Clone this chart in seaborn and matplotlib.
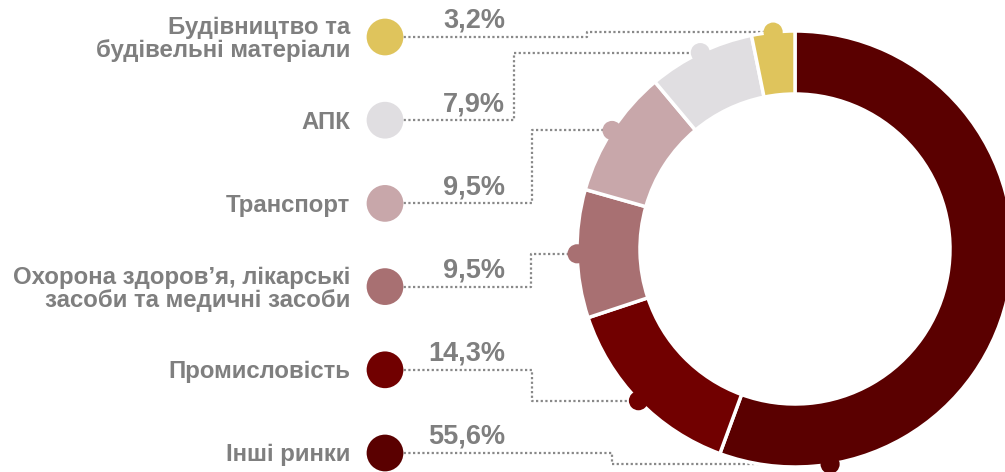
import matplotlib
matplotlib.use("Agg")
import numpy as np
import matplotlib.pyplot as plt
import seaborn as sns

# Sector shares, in drawing order (clockwise from 12 o'clock)
sectors = [
    "Інші ринки",
    "Промисловість",
    "Охорона здоров’я, лікарські\nзасоби та медичні засоби",
    "Транспорт",
    "АПК",
    "Будівництво та\nбудівельні матеріали",
]
shares = [55.6, 14.3, 9.5, 9.5, 7.9, 3.2]
share_labels = ["55,6%", "14,3%", "9,5%", "9,5%", "7,9%", "3,2%"]
colors = ["#5a0000", "#710000", "#a87072", "#c8a7aa", "#e0dee1", "#dfc45c"]

W, H = 1005, 472
sns.set_theme(style="white")
plt.rcParams["font.family"] = ["Liberation Sans", "DejaVu Sans"]

fig = plt.figure(figsize=(W / 100, H / 100), dpi=100)
ax = fig.add_axes([0, 0, 1, 1])

# ring geometry (pixel units, y up)
cx, cy = 795, H - 249
R, ring_w = 218, 63

ax.pie(shares, colors=colors, startangle=90, counterclock=False,
       radius=R, center=(cx, cy),
       wedgeprops=dict(width=ring_w, edgecolor="white", linewidth=2.5))
ax.set_xlim(0, W)
ax.set_ylim(0, H)
ax.set_aspect("equal")
ax.axis("off")
for p in ax.patches:
    p.set_zorder(3)

# where along each slice its leader line attaches (0 = start, 1 = end)
anchor_frac = [0.853, 0.5, 0.5, 0.5, 0.5, 0.5]
total = sum(shares)
cum = np.concatenate([[0], np.cumsum(shares)[:-1]])
theta = np.deg2rad(90 - 360 * (cum + np.array(anchor_frac) * np.array(shares)) / total)
dot_x = cx + R * np.cos(theta)
dot_y = cy + R * np.sin(theta)

n = len(sectors)
# legend rows, top to bottom, run in reverse drawing order
order = list(range(n))[::-1]
row_y = [H - (37 + 83.2 * j) for j in range(n)]
marker_x = 385
elbow_x = [587, 514, 532, 531, 532, 612]

grey = "#7f7f7f"
line_col = "#888888"

for j, i in enumerate(order):
    y0 = row_y[j]
    xs = [marker_x, elbow_x[j], elbow_x[j], dot_x[i]]
    ys = [y0, y0, dot_y[i], dot_y[i]]
    ax.plot(xs, ys, color=line_col, lw=1.6, ls=(0, (1, 1.1)),
            zorder=2, solid_capstyle="butt", dash_capstyle="butt")
    ax.text(350, y0 - 2, sectors[i], ha="right", va="center", fontsize=17.3,
            fontweight="bold", color=grey, linespacing=1.0, zorder=5)
    ax.text(505, y0 + 9, share_labels[i], ha="right", va="baseline",
            fontsize=19.5, fontweight="bold", color=grey, zorder=5)

pal = dict(zip(sectors, colors))
sns.scatterplot(x=[marker_x] * n, y=row_y, hue=[sectors[i] for i in order],
                palette=pal, s=700, linewidth=0, legend=False, ax=ax, zorder=4)
sns.scatterplot(x=dot_x, y=dot_y, hue=sectors, palette=pal, s=190,
                linewidth=0, legend=False, ax=ax, zorder=4)
ax.set_xlim(0, W)
ax.set_ylim(0, H)
ax.set_xlabel("")
ax.set_ylabel("")

fig.savefig("out.png", dpi=100, facecolor="white")
